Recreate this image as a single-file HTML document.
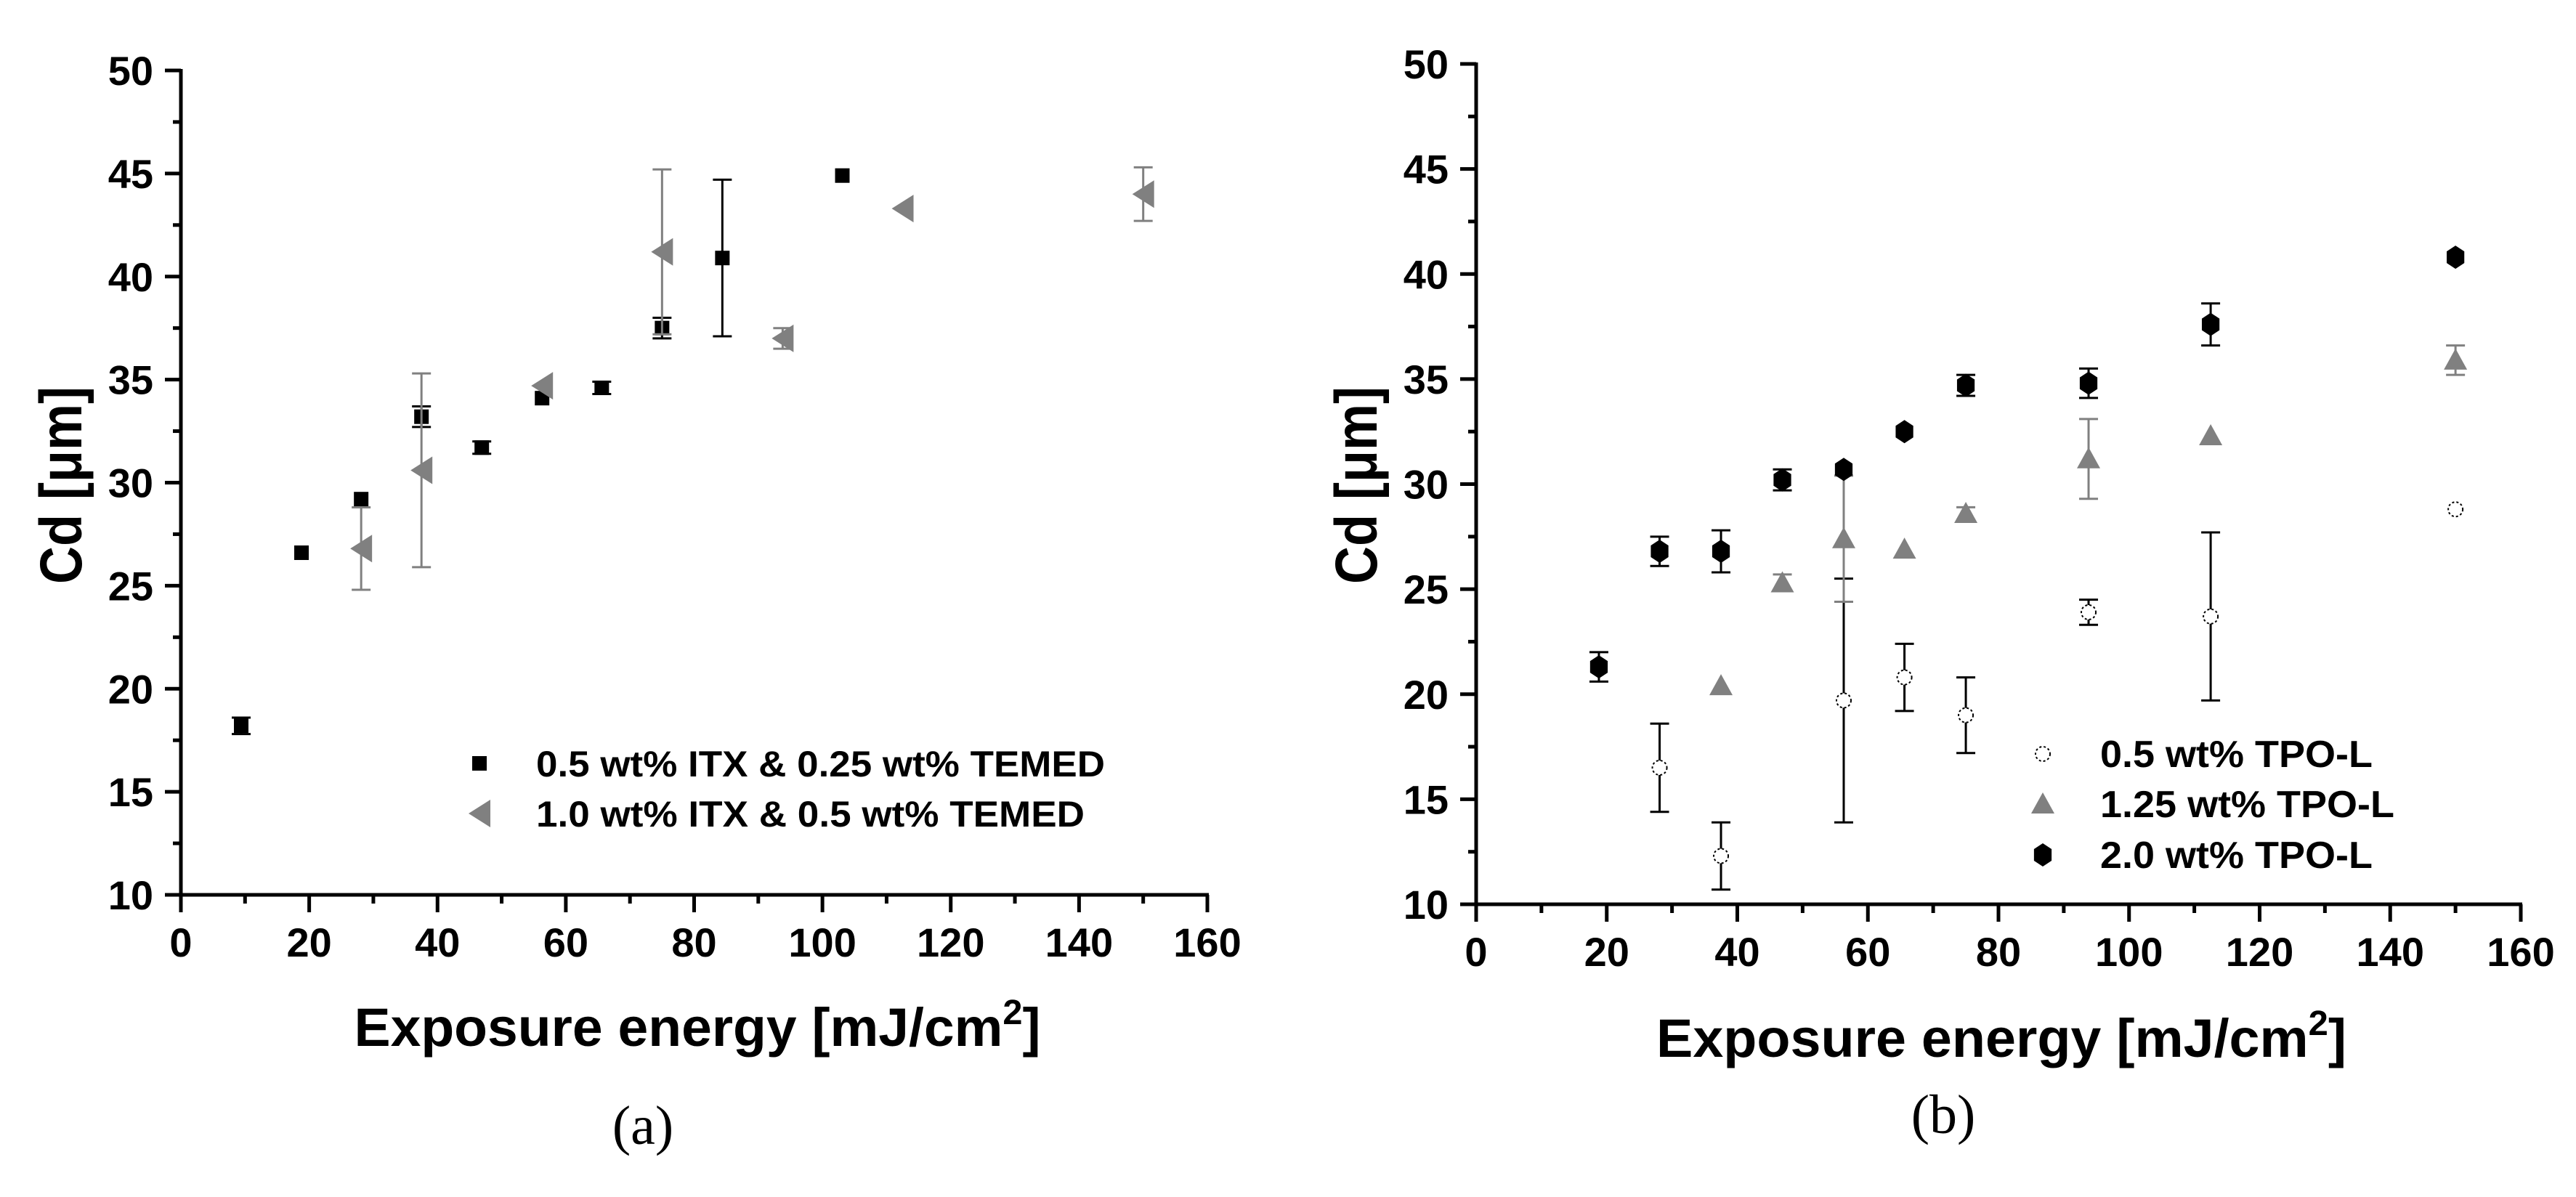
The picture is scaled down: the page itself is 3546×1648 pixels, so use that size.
<!DOCTYPE html>
<html><head><meta charset="utf-8"><style>
html,body{margin:0;padding:0;background:#fff;}
svg{display:block;}
</style></head>
<body>
<svg id="fig" width="3546" height="1648" viewBox="0 0 3546 1648" xmlns="http://www.w3.org/2000/svg" font-family="Liberation Sans, Arial, sans-serif">
<g id="panelA"></g>
<g id="panelB"></g>
</svg>
<script>
// ---- Panel (a) data ----
const aX1 = [9.4, 18.8, 28.1, 37.5, 46.9, 56.3, 65.6, 75, 84.4, 103.1];
const aY1 = [18.2, 26.6, 29.2, 33.2, 31.7, 34.1, 34.6, 37.5, 40.9, 44.9];
const aE1 = [0.4, 0, 0, 0.5, 0.3, 0, 0.3, 0.5, 3.8, 0];
const aX2 = [28.1, 37.5, 56.3, 75, 93.8, 112.5, 150];
const aY2 = [26.8, 30.6, 34.7, 41.2, 37.0, 43.3, 44.0];
const aE2 = [2.0, 4.7, 0, 4.0, 0.5, 0, 1.3];
// ---- Panel (b) data ----
const bX1 = [28.1, 37.5, 56.3, 65.6, 75, 93.8, 112.5, 150];
const bY1 = [16.5, 12.3, 19.7, 20.8, 19.0, 23.9, 23.7, 28.8];
const bE1 = [2.1, 1.6, 5.8, 1.6, 1.8, 0.6, 4.0, 0];
const bX2 = [37.5, 46.9, 56.3, 65.6, 75, 93.8, 112.5, 150];
const bY2 = [20.4, 25.3, 27.4, 26.9, 28.6, 31.2, 32.3, 35.9];
const bE2 = [0, 0.4, 3.0, 0, 0.3, 1.9, 0, 0.7];
const bX3 = [18.8, 28.1, 37.5, 46.9, 56.3, 65.6, 75, 93.8, 112.5, 150];
const bY3 = [21.3, 26.8, 26.8, 30.2, 30.7, 32.5, 34.7, 34.8, 37.6, 40.8];
const bE3 = [0.7, 0.7, 1.0, 0.5, 0, 0, 0.5, 0.7, 1.0, 0];
const xTicks = [0, 20, 40, 60, 80, 100, 120, 140, 160];
const yTicks = [10, 15, 20, 25, 30, 35, 40, 45, 50];

const NS = "http://www.w3.org/2000/svg";
function mk(parent, tag, attrs, txt) {
  const e = document.createElementNS(NS, tag);
  for (const k in attrs) e.setAttribute(k, attrs[k]);
  if (txt !== undefined) e.textContent = txt;
  parent.appendChild(e);
  return e;
}

function drawPanel(g, ax, opts) {
  const sx = v => ax.x0 + (v - 0) / 160 * (ax.x1 - ax.x0);
  const sy = v => ax.y0 + (v - 10) / 40 * (ax.y1 - ax.y0);
  const xl = mk(g, 'line', {x1: ax.x0 - 2, y1: ax.y0, x2: ax.x1 + 2, y2: ax.y0, stroke: '#000', 'stroke-width': 5});
  
  
  const yl = mk(g, 'line', {x1: ax.x0, y1: ax.y0 + 2, x2: ax.x0, y2: ax.y1 - 2, stroke: '#000', 'stroke-width': 5});
  
  
  for (let v = 0; v <= 160; v += 10) {
    const major = v % 20 === 0;
    const t = mk(g, 'line', {x1: sx(v), y1: ax.y0, x2: sx(v), y2: ax.y0 + (major ? 24 : 12), stroke: '#000', 'stroke-width': 5});
    
    
  }
  xTicks.forEach(v => {
    const t = mk(g, 'text', {x: sx(v), y: ax.y0 + 85, 'font-size': 56, 'font-weight': 'bold', 'text-anchor': 'middle'}, String(v));
    
    
  });
  for (let v = 10; v <= 50; v += 2.5) {
    const major = (v % 5) === 0;
    const t = mk(g, 'line', {x1: ax.x0, y1: sy(v), x2: ax.x0 - (major ? 22 : 11), y2: sy(v), stroke: '#000', 'stroke-width': 5});
    
    
  }
  yTicks.forEach(v => {
    const t = mk(g, 'text', {x: ax.x0 - 38, y: sy(v) + 20, 'font-size': 56, 'font-weight': 'bold', 'text-anchor': 'end'}, String(v));
    
    
  });
  const xt = mk(g, 'text', {x: opts.xtx, y: opts.xty, 'font-size': 74, 'font-weight': 'bold', 'text-anchor': 'middle', textLength: opts.xtw, lengthAdjust: 'spacingAndGlyphs'});
  
  
  xt.appendChild(document.createTextNode('Exposure energy [mJ/cm'));
  mk(xt, 'tspan', {'font-size': 48, dy: -30}, '2');
  mk(xt, 'tspan', {dy: 30}, ']');
  const yt = mk(g, 'text', {x: 0, y: 0, 'font-size': 82, 'font-weight': 'bold', 'text-anchor': 'middle', transform: 'translate(' + opts.ytx + ',' + opts.yty + ') rotate(-90)', textLength: 272, lengthAdjust: 'spacingAndGlyphs'}, 'Cd [\u03bcm]');
  
  
  const pl = mk(g, 'text', {x: opts.plx, y: opts.ply, 'font-size': 76, 'text-anchor': 'middle', style: 'font-family:"Liberation Serif",serif'}, opts.panel);
  
  
  return {sx, sy};
}

function errBars(g, s, xs, ys, es, color) {
  xs.forEach((x, i) => {
    if (!es[i]) return;
    const cx = s.sx(x), yh = s.sy(ys[i] + es[i]), ylo = s.sy(ys[i] - es[i]);
    const l = mk(g, 'line', {x1: cx, y1: yh, x2: cx, y2: ylo, stroke: color, 'stroke-width': 3});
    
    
    mk(g, 'line', {x1: cx - 13, y1: yh, x2: cx + 13, y2: yh, stroke: color, 'stroke-width': 3});
    mk(g, 'line', {x1: cx - 13, y1: ylo, x2: cx + 13, y2: ylo, stroke: color, 'stroke-width': 3});
  });
}

function marker(g, type, cx, cy) {
  let e;
  if (type === 'square') e = mk(g, 'rect', {x: cx - 10, y: cy - 10, width: 20, height: 20, fill: '#000'});
  else if (type === 'ltri') e = mk(g, 'polygon', {points: (cx - 15) + ',' + cy + ' ' + (cx + 15) + ',' + (cy - 19) + ' ' + (cx + 15) + ',' + (cy + 19), fill: '#808080'});
  else if (type === 'utri') e = mk(g, 'polygon', {points: cx + ',' + (cy - 16) + ' ' + (cx + 16) + ',' + (cy + 13) + ' ' + (cx - 16) + ',' + (cy + 13), fill: '#808080'});
  else if (type === 'hex') e = mk(g, 'polygon', {points: [0, 60, 120, 180, 240, 300].map(a => { const r = a * Math.PI / 180; return (cx + 14 * Math.sin(r)) + ',' + (cy - 16 * Math.cos(r)); }).join(' '), fill: '#000'});
  else e = mk(g, 'circle', {cx: cx, cy: cy, r: 10, fill: '#fff', stroke: '#000', 'stroke-width': 2, 'stroke-dasharray': '3,3'});
  return e;
}

function series(g, s, xs, ys, es, type, color, name) {
  const sg = mk(g, 'g', {});
  
  
  errBars(sg, s, xs, ys, es, color);
  xs.forEach((x, i) => {
    const m = marker(sg, type, s.sx(x), s.sy(ys[i]));
    
    
  });
}

function legend(g, items, mx, tx, ys, size, tw) {
  items.forEach((it, i) => {
    const lg = mk(g, 'g', {});
    
    
    marker(lg, it[0], mx, ys[i]);
    mk(lg, 'text', {x: tx, y: ys[i] + 18, 'font-size': size, 'font-weight': 'bold', textLength: tw[i], lengthAdjust: 'spacingAndGlyphs'}, it[1]);
  });
}

const gA = document.getElementById('panelA');
const sA = drawPanel(gA, {x0: 249, x1: 1662, y0: 1232, y1: 97},
  {xtx: 960, xty: 1440, xtw: 945, ytx: 112, yty: 668, plx: 885, ply: 1575, panel: '(a)'});
series(gA, sA, aX1, aY1, aE1, 'square', '#000', 'series-itx-0.5');
series(gA, sA, aX2, aY2, aE2, 'ltri', '#808080', 'series-itx-1.0');
legend(gA, [['square', '0.5 wt% ITX & 0.25 wt% TEMED'], ['ltri', '1.0 wt% ITX & 0.5 wt% TEMED']],
  660, 738, [1051, 1120], 50, [783, 755]);

const gB = document.getElementById('panelB');
const sB = drawPanel(gB, {x0: 2032, x1: 3470, y0: 1245, y1: 88},
  {xtx: 2755, xty: 1455, xtw: 950, ytx: 1895, yty: 668, plx: 2675, ply: 1560, panel: '(b)'});
series(gB, sB, bX1, bY1, bE1, 'circle', '#000', 'series-tpo-0.5');
series(gB, sB, bX2, bY2, bE2, 'utri', '#808080', 'series-tpo-1.25');
series(gB, sB, bX3, bY3, bE3, 'hex', '#000', 'series-tpo-2.0');
legend(gB, [['circle', '0.5 wt% TPO-L'], ['utri', '1.25 wt% TPO-L'], ['hex', '2.0 wt% TPO-L']],
  2812, 2891, [1038, 1107, 1177], 52, [375, 405, 375]);
</script>
</body></html>
